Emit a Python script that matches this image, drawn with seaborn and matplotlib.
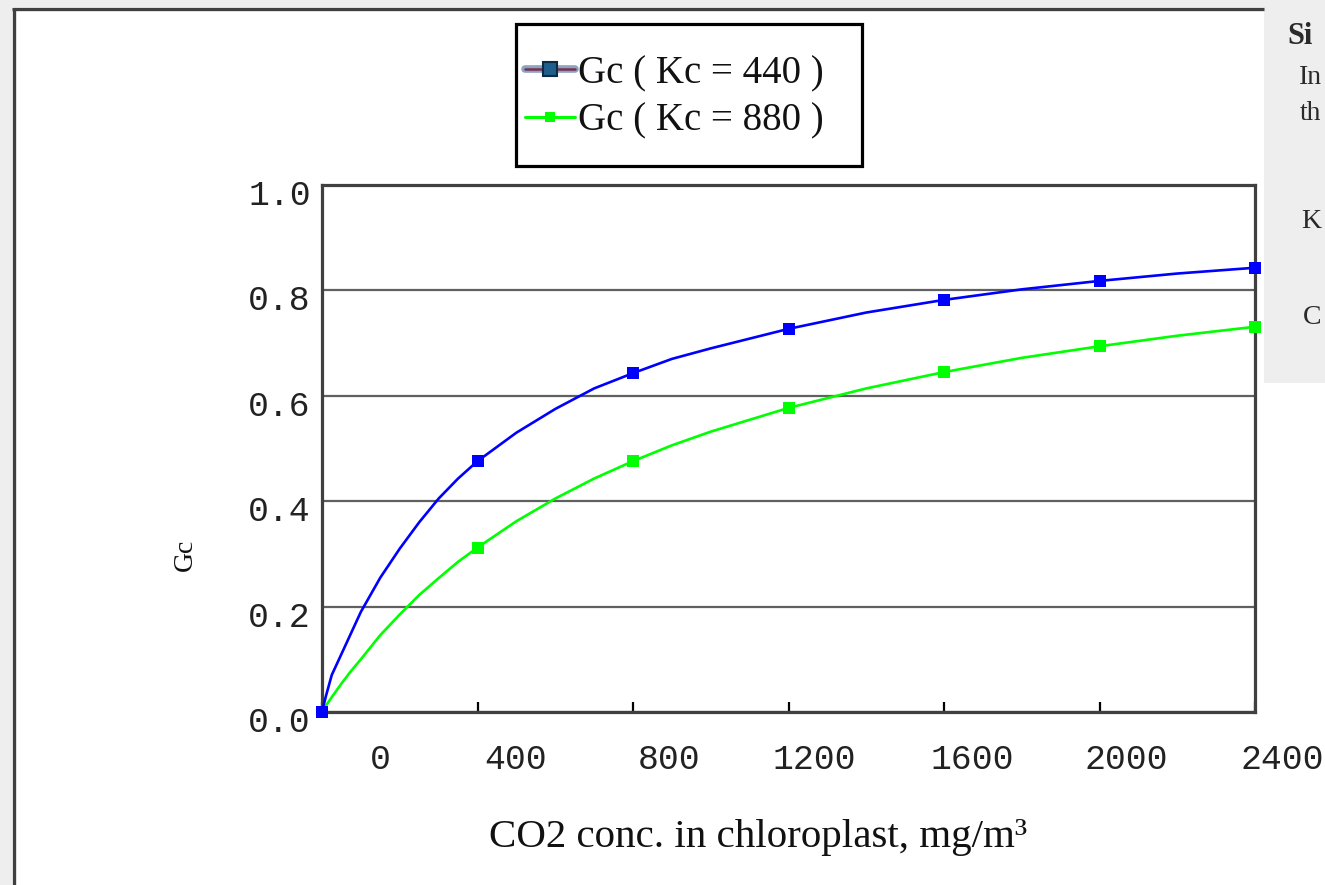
import numpy as np
import pandas as pd
import matplotlib
matplotlib.use("Agg")
import matplotlib.pyplot as plt
import matplotlib.transforms as mtransforms
from matplotlib.lines import Line2D
from matplotlib.patches import Rectangle
from matplotlib.legend_handler import HandlerTuple
import seaborn as sns

# ---------------- data ----------------
co2 = [0, 10, 25, 50, 75, 100, 150, 200, 250, 300, 350, 400,
       500, 600, 700, 800, 900, 1000, 1200, 1400, 1600, 1800, 2000, 2200, 2400]
gc_kc440 = [0.0, 0.03, 0.07, 0.11, 0.15, 0.19, 0.255, 0.31, 0.36, 0.405, 0.443, 0.476,
            0.53, 0.575, 0.614, 0.643, 0.67, 0.69, 0.727, 0.758, 0.782, 0.802, 0.818,
            0.832, 0.843]
gc_kc880 = [0.0, 0.012, 0.028, 0.054, 0.078, 0.10, 0.146, 0.185, 0.222, 0.254, 0.285,
            0.312, 0.362, 0.405, 0.443, 0.476, 0.506, 0.532, 0.577, 0.614, 0.645,
            0.672, 0.694, 0.714, 0.731]
series_labels = ["Gc ( Kc = 440 )", "Gc ( Kc = 880 )"]
series_colors = ["#0000ff", "#00ff00"]
marker_step = 400
x_ticks = [0, 400, 800, 1200, 1600, 2000, 2400]
x_tick_labels = ["0", "400", "800", "1200", "1600", "2000", "2400"]
y_ticks = [0.0, 0.2, 0.4, 0.6, 0.8, 1.0]
y_tick_labels = ["0.0", "0.2", "0.4", "0.6", "0.8", "1.0"]
x_label = "CO2 conc. in chloroplast, mg/m³"
y_label = "Gc"
panel_texts = ["Si", "In", "th", "K", "C"]

# ---------------- figure ----------------
W, H = 1325, 885
sns.set_style("white")
plt.rcParams["font.family"] = ["Liberation Serif", "DejaVu Serif"]

fig = plt.figure(figsize=(W / 100, H / 100), dpi=100, facecolor="white")

# page decoration (screenshot surroundings)
gray = "#eeeeee"
fig.patches.append(Rectangle((0, 0), 12 / W, 1, transform=fig.transFigure,
                             facecolor=gray, edgecolor="none", zorder=-5))
fig.patches.append(Rectangle((0, 1 - 7 / H), 1, 7 / H, transform=fig.transFigure,
                             facecolor=gray, edgecolor="none", zorder=-5))
fig.patches.append(Rectangle((1264 / W, 1 - 383 / H), 61 / W, 383 / H,
                             transform=fig.transFigure, facecolor=gray,
                             edgecolor="none", zorder=-5))
fig.lines.append(Line2D([12 / W, 1264 / W], [1 - 9 / H, 1 - 9 / H],
                        transform=fig.transFigure, color="#404040", lw=2.4,
                        solid_capstyle="butt"))
fig.lines.append(Line2D([13.5 / W, 13.5 / W], [0, 1 - 7.5 / H],
                        transform=fig.transFigure, color="#404040", lw=2.4,
                        solid_capstyle="butt"))

ax = fig.add_axes([322 / W, 1 - 712 / H, 933 / W, 527 / H])
ax.set_facecolor("white")

n = len(co2)
df = pd.DataFrame({
    "co2": co2 * 2,
    "gc": gc_kc440 + gc_kc880,
    "series": [series_labels[0]] * n + [series_labels[1]] * n,
})
mark_idx = [i for i, v in enumerate(co2) if v % marker_step == 0]

# draw the Kc=880 curve first so the Kc=440 curve sits on top (as in the reference)
sns.lineplot(data=df, x="co2", y="gc", hue="series",
             hue_order=[series_labels[1], series_labels[0]],
             palette=dict(zip(series_labels, series_colors)),
             estimator=None, sort=False,
             legend=False, ax=ax, linewidth=1.9, marker="s", markersize=8,
             markeredgewidth=0, markevery=mark_idx, zorder=3, clip_on=False)

ax.set_xlim(0, 2400)
ax.set_ylim(0, 1.0)

# grid
ax.yaxis.grid(True, color="#606060", linewidth=1.6)
ax.xaxis.grid(False)
ax.set_axisbelow(True)

for s in ax.spines.values():
    s.set_visible(True)
    s.set_color("#404040")
    s.set_linewidth(2.3)

tick_font = {"family": "Liberation Mono", "size": 25}
ax.set_xticks(x_ticks)
ax.set_xticklabels(x_tick_labels, fontdict=tick_font, color="#222222")
ax.set_yticks(y_ticks)
ax.set_yticklabels(y_tick_labels, fontdict=tick_font, color="#222222")
ax.tick_params(axis="x", direction="in", length=7, width=1.6, color="black",
               pad=22, bottom=True, top=False)
ax.tick_params(axis="y", length=0, pad=8, left=True)

# label offsets as they appear in the reference
x_shift_px = [58, 38, 36, 26, 28, 27, 27]
for lbl, dx in zip(ax.get_xticklabels(), x_shift_px):
    lbl.set_transform(lbl.get_transform() +
                      mtransforms.ScaledTranslation(dx / 100, 0, fig.dpi_scale_trans))
for lbl in ax.get_yticklabels():
    lbl.set_transform(lbl.get_transform() +
                      mtransforms.ScaledTranslation(0, -7 / 100, fig.dpi_scale_trans))

ax.set_xlabel(x_label, fontsize=29.5, color="#111111")
ax.xaxis.set_label_coords((758 - 322) / 933, (712 - 837) / 527)
ax.xaxis.label.set_verticalalignment("center")
ax.set_ylabel(y_label, fontsize=20, color="#111111")
ax.yaxis.set_label_coords((185 - 322) / 933, (712 - 555) / 527)
ax.yaxis.label.set_verticalalignment("center")
ax.yaxis.label.set_horizontalalignment("center")

# legend frame (drawn as box) and legend entries
fig.patches.append(Rectangle((516 / W, 1 - 166 / H), 346 / W, 142 / H,
                             transform=fig.transFigure, facecolor="white",
                             edgecolor="black", linewidth=2.3, zorder=4))
h440 = (Line2D([], [], color="#8aa4c2", lw=5.5, solid_capstyle="round"),
        Line2D([], [], color="#7a3050", lw=1.8),
        Line2D([], [], ls="", marker="s", markersize=10,
               markerfacecolor="#1f5d8a", markeredgecolor="#0b2b45",
               markeredgewidth=1.5))
h880 = Line2D([], [], color="#00ff00", lw=2.2, marker="s", markersize=6.5,
              markeredgewidth=0)
leg = fig.legend(handles=[h440, h880], labels=series_labels, loc="upper left",
                 bbox_to_anchor=(525 / W, 1 - 55 / H),
                 bbox_transform=fig.transFigure, frameon=False,
                 prop={"family": "Liberation Serif", "size": 28},
                 handlelength=1.28, handletextpad=0.08, borderpad=0.0,
                 labelspacing=0.28, borderaxespad=0,
                 handler_map={tuple: HandlerTuple(ndivide=1)})
leg.set_zorder(6)
for t in leg.get_texts():
    t.set_color("#111111")

# side panel text from the page
panel_pos = [(1287, 36), (1299, 77), (1300, 114), (1301, 222), (1303, 317)]
for t, (px, py) in zip(panel_texts, panel_pos):
    fig.text(px / W, 1 - py / H, t, fontsize=20 if t != "Si" else 22,
             fontweight="bold" if t == "Si" else "normal",
             color="#2a2a2a", ha="left", va="center")

fig.savefig("out.png", dpi=100, facecolor=fig.get_facecolor())
